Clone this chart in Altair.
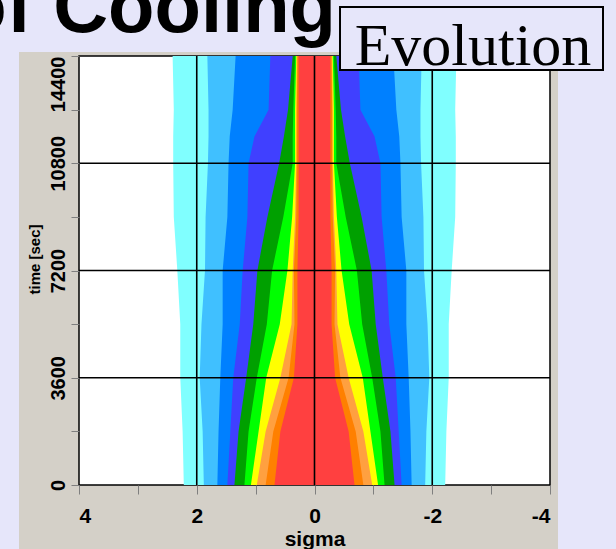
import altair as alt
import pandas as pd

# Beam profile evolution under stochastic cooling: half-widths (in sigma) of
# each density contour, read at fixed times. Contours are symmetric about 0.
times = [0, 1800, 3600, 5400, 7200, 9000, 10800, 11700, 12600, 14400]

level_names = ["L1", "L2", "L3", "L4", "L5", "L6", "L7", "L8", "L9", "L10"]
level_colors = ["#80FFFF", "#40C0FF", "#0080FF", "#4040FF", "#00A000",
                "#00FF00", "#FFFF00", "#FFA040", "#FF8000", "#FF4040"]

w_L1 = [2.22, 2.24, 2.28, 2.28, 2.33, 2.39, 2.40, 2.40, 2.39, 2.41]
w_L2 = [1.88, 1.90, 1.95, 1.92, 1.86, 1.85, 1.81, 1.80, 1.80, 1.82]
w_L3 = [1.65, 1.63, 1.60, 1.56, 1.56, 1.48, 1.46, 1.44, 1.39, 1.34]
w_L4 = [1.48, 1.43, 1.38, 1.27, 1.22, 1.14, 1.12, 1.02, 0.78, 0.75]
w_L5 = [1.36, 1.29, 1.16, 1.04, 0.97, 0.80, 0.60, 0.52, 0.45, 0.37]
w_L6 = [1.19, 1.12, 0.98, 0.81, 0.72, 0.53, 0.37, 0.37, 0.36, 0.33]
w_L7 = [1.08, 0.95, 0.82, 0.59, 0.46, 0.38, 0.33, 0.33, 0.33, 0.31]
w_L8 = [0.98, 0.83, 0.58, 0.39, 0.37, 0.33, 0.31, 0.31, 0.31, 0.30]
w_L9 = [0.83, 0.70, 0.44, 0.34, 0.35, 0.31, 0.30, 0.30, 0.30, 0.29]
w_L10 = [0.68, 0.58, 0.35, 0.29, 0.29, 0.27, 0.27, 0.27, 0.27, 0.27]

half_widths = [w_L1, w_L2, w_L3, w_L4, w_L5, w_L6, w_L7, w_L8, w_L9, w_L10]

x_ticks = [4, 3, 2, 1, 0, -1, -2, -3, -4]
y_ticks = [0, 1800, 3600, 5400, 7200, 9000, 10800, 12600, 14400]
x_grid = [2, 0, -2]
y_grid = [3600, 7200, 10800]

rows = []
for name, widths in zip(level_names, half_widths):
    for t, w in zip(times, widths):
        rows.append({"level": name, "t": t, "lo": -w, "hi": w})
bands_df = pd.DataFrame(rows)

W, H = 471, 429
one = pd.DataFrame({"k": [0]})
AXIS_FONT = "Liberation Sans"

x_axis = alt.Axis(
    values=x_ticks,
    labelExpr="datum.value % 2 == 0 ? '' + datum.value : ''",
    grid=False, domain=False,
    tickColor="#7F7F7F", tickSize=9, tickWidth=1,
    labelFont=AXIS_FONT, labelFontSize=21, labelFontWeight="bold",
    labelColor="black", labelPadding=11,
    title="sigma", titleFont=AXIS_FONT, titleFontSize=21,
    titleFontWeight="bold", titleColor="black",
    titleY=60, titleBaseline="alphabetic",
    zindex=1,
)
y_axis = alt.Axis(
    values=y_ticks,
    labelExpr="datum.value % 3600 == 0 ? '' + datum.value : ''",
    grid=False, domain=False, labelFlush=False,
    tickColor="#7F7F7F", tickSize=8, tickWidth=1,
    labelFont=AXIS_FONT, labelFontSize=20, labelFontWeight="bold",
    labelColor="black", labelPadding=7,
    labelAngle=270,
    labelAlign=alt.condition("datum.value == 14400", alt.value("right"), alt.value("center")),
    labelBaseline="alphabetic",
    title="time [sec]", titleFont=AXIS_FONT, titleFontSize=15,
    titleFontWeight="bold", titleColor="black",
    titleAngle=270, titleX=-40, titleY=203,
    titleAlign="center", titleBaseline="alphabetic",
    zindex=1,
)
x_scale = alt.Scale(domain=[4, -4], nice=False, zero=False)
y_scale = alt.Scale(domain=[0, 14400], nice=False, zero=False)
color_scale = alt.Scale(domain=level_names, range=level_colors)

# slide title, partly above the top edge
title_text = alt.Chart(one).mark_text(
    text="of Cooling", font="Liberation Sans", fontWeight="bold",
    fontSize=76, align="right", baseline="alphabetic", color="black",
).encode(x=alt.value(257), y=alt.value(-24))

# grey window panel holding the plot
panel = alt.Chart(one).mark_rect(color="#D4D0C8").encode(
    x=alt.value(-60), x2=alt.value(479), y=alt.value(-4), y2=alt.value(500)
)
plot_bg = alt.Chart(one).mark_rect(
    fill="white", stroke="black", strokeWidth=1.5
).encode(x=alt.value(0), x2=alt.value(W), y=alt.value(0), y2=alt.value(H))

# contour bands, outermost first so inner levels paint over them
band_layers = []
for name in level_names:
    band_layers.append(
        alt.Chart(bands_df).transform_filter(alt.datum.level == name)
        .mark_area(orient="horizontal", interpolate="linear")
        .encode(
            y=alt.Y("t:Q", scale=y_scale, axis=y_axis),
            x=alt.X("lo:Q", scale=x_scale, axis=x_axis),
            x2="hi:Q",
            color=alt.Color("level:N", scale=color_scale, legend=None),
        )
    )

grid_v = alt.Chart(pd.DataFrame({"s": x_grid})).mark_rule(
    color="black", strokeWidth=1.6
).encode(x=alt.X("s:Q", scale=x_scale, axis=x_axis))
grid_h = alt.Chart(pd.DataFrame({"t": y_grid})).mark_rule(
    color="black", strokeWidth=1.6
).encode(y=alt.Y("t:Q", scale=y_scale, axis=y_axis))

evo_box = alt.Chart(one).mark_rect(
    fill="#E6E6FA", stroke="black", strokeWidth=2
).encode(x=alt.value(261), x2=alt.value(524), y=alt.value(-49), y2=alt.value(14))
evo_text = alt.Chart(one).mark_text(
    text="Evolution", font="Liberation Serif", fontSize=60,
    align="center", baseline="alphabetic", color="black",
).encode(x=alt.value(394), y=alt.value(9))

chart = alt.layer(
    title_text, panel, plot_bg, *band_layers, grid_v, grid_h, evo_box, evo_text
).properties(
    width=W, height=H,
    padding={"left": 79, "top": 56, "right": 66, "bottom": 64},
    autosize=alt.AutoSizeParams(type="none"),
).configure(background="#E6E6FA").configure_view(stroke=None)

chart.save("out.html", embed_options={"renderer": "svg", "actions": False})
